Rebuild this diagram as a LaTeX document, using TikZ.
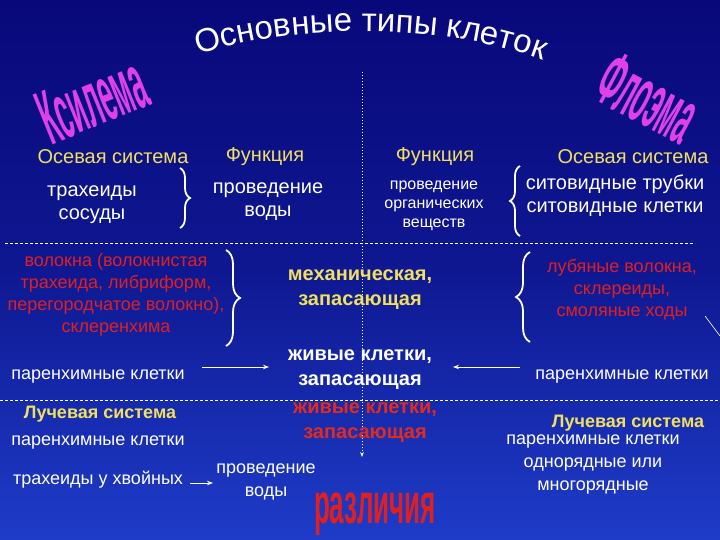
\documentclass[tikz,border=0pt]{standalone}
\usepackage{fontspec}
\setmainfont{Liberation Sans}
\usetikzlibrary{decorations.text,decorations.pathreplacing,arrows.meta}
\definecolor{bgA}{HTML}{08087A}
\definecolor{bgB}{HTML}{1E3CC8}
\definecolor{ylw}{HTML}{F0E060}
\definecolor{rd}{HTML}{E02020}
\definecolor{mag}{HTML}{E040E8}
\begin{document}
\begin{tikzpicture}[x=1pt,y=-1pt,
  txt/.style={text=white,font=\fontsize{20}{23}\selectfont,align=center},
  txs/.style={text=white,font=\fontsize{18}{23}\selectfont,align=center},
  hdr/.style={text=ylw,font=\fontsize{20}{23}\selectfont,align=center},
  redt/.style={text=rd,font=\fontsize{18}{22}\selectfont,align=center},
  bold/.style={font=\bfseries\fontsize{20}{25}\selectfont,align=center},
  brc/.style={draw=white,line width=1.8pt,decorate,decoration={brace,amplitude=10pt}},
  arr/.style={draw=white,line width=1pt,-{Stealth[length=6pt]}},
  wordart/.style={text=mag,font=\bfseries\fontsize{52}{52}\selectfont}]
\shade[top color=bgA,bottom color=bgB,middle color=bgA!70!bgB] (0,0) rectangle (720,540);
\useasboundingbox (0,0) rectangle (720,540);
% title
\path[postaction={decorate},decoration={text along path,text align=center,
  text={|\color{white}\fontsize{33}{33}\selectfont|Основные типы клеток}}]
  (165,68) .. controls (270,18) and (470,18) .. (575,75);
% word art
\node[wordart,rotate=22,xscale=0.5,yscale=1.5] (ksi) at (92,100) {Ксилема};
\node[wordart,rotate=-28,xscale=0.5,yscale=1.5] (flo) at (648,98) {Флоэма};
% lines
\coordinate (vt) at (362,72); \coordinate (vb) at (362,457);
\draw[white,dotted,line width=1pt,-{Stealth[length=5pt]}] (vt) -- (vb);
\coordinate (h1a) at (5,243); \coordinate (h1b) at (695,243);
\draw[white,densely dashed,line width=0.8pt] (h1a) -- (h1b);
\coordinate (h2a) at (0,400); \coordinate (h2b) at (720,400);
\draw[white,densely dashed,line width=0.8pt] (h2a) -- (h2b);
\coordinate (d1) at (705,316); \coordinate (d2) at (720,336);
\draw[white,line width=0.6pt] (d1) -- (d2);
% headers
\node[hdr] (h1) at (113,157) {Осевая система};
\node[hdr] (h2) at (265,157) {Функция};
\node[hdr] (h3) at (435,157) {Функция};
\node[hdr] (h4) at (633,157) {Осевая система};
% row 1
\node[txt] (tr) at (92,205) {трахеиды\\сосуды};
\draw[brc] (180,168) -- (180,228);
\node[txt] (pv) at (268,202) {проведение\\воды};
\node[txt,font=\fontsize{16}{19}\selectfont] (po) at (434,206) {проведение\\органических\\веществ};
\draw[brc] (520,236) -- (520,166);
\node[txt] (sit) at (615,196) {ситовидные трубки\\ситовидные клетки};
% row 2
\node[redt] (vol) at (116,295) {волокна (волокнистая\\трахеида, либриформ,\\перегородчатое волокно),\\склеренхима};
\draw[brc,decoration={brace,amplitude=14pt}] (226,250) -- (226,346);
\node[hdr,bold] (mex) at (360,290) {механическая,\\запасающая};
\draw[brc,decoration={brace,amplitude=14pt}] (530,342) -- (530,252);
\node[redt] (lub) at (622,290) {лубяные волокна,\\склереиды,\\смоляные ходы};
% row 3
\node[txs] (pl) at (98,377) {паренхимные клетки};
\node[txt,bold] (zh) at (360,370) {живые клетки,\\запасающая};
\node[txs] (pr) at (622,377) {паренхимные клетки};
\coordinate (a1s) at (202,367); \coordinate (a1e) at (269,367);
\coordinate (a2s) at (520,367); \coordinate (a2e) at (453,367);
\draw[arr] (a1s) -- (a1e);
\draw[arr] (a2s) -- (a2e);
% row 4
\node[hdr,font=\bfseries\fontsize{18}{20}\selectfont] (lsl) at (100,414) {Лучевая система};
\node[text=rd!90!orange,bold] (zh2) at (365,423) {живые клетки,\\запасающая};
\node[hdr,font=\bfseries\fontsize{18}{20}\selectfont] (lsr) at (628,423) {Лучевая система};
\node[txs] (pl2) at (98,443) {паренхимные клетки};
\node[txs] (pr2) at (593,465) {паренхимные клетки\\однорядные или\\многорядные};
\node[txs] (thv) at (98,480) {трахеиды у хвойных};
\node[txs] (pv2) at (266,482) {проведение\\воды};
\coordinate (a3s) at (190,483); \coordinate (a3e) at (213,483);
\draw[arr] (a3s) -- (a3e);
\node[wordart,text=rd,xscale=0.5,yscale=1.1] (raz) at (375,514) {различия};
\end{tikzpicture}
\end{document}
